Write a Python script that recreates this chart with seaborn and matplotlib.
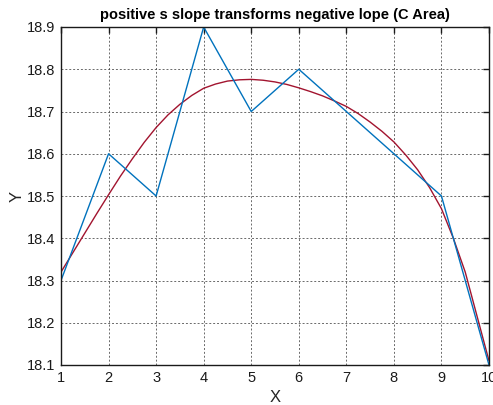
import matplotlib
matplotlib.use("Agg")
import matplotlib.pyplot as plt
import seaborn as sns
import pandas as pd

# data
x_data = [1, 2, 3, 4, 5, 6, 7, 8, 9, 10]
y_data = [18.3, 18.6, 18.5, 18.9, 18.7, 18.8, 18.7, 18.6, 18.5, 18.1]

x_fit = [1, 1.25, 1.5, 1.75, 2, 2.25, 2.5, 2.75, 3, 3.25, 3.5, 3.75, 4, 4.25,
         4.5, 4.75, 5, 5.25, 5.5, 5.75, 6, 6.25, 6.5, 6.75, 7, 7.25, 7.5,
         7.75, 8, 8.25, 8.5, 8.75, 9, 9.25, 9.5, 9.75, 10]
y_fit = [18.32, 18.366, 18.412, 18.458, 18.503, 18.547, 18.588, 18.627,
         18.662, 18.692, 18.717, 18.738, 18.755, 18.765, 18.772, 18.775,
         18.776, 18.774, 18.770, 18.764, 18.756, 18.747, 18.737, 18.725,
         18.712, 18.695, 18.675, 18.653, 18.628, 18.597, 18.562, 18.52,
         18.47, 18.40, 18.32, 18.215, 18.11]

x_ticks = [1, 2, 3, 4, 5, 6, 7, 8, 9, 10]
y_ticks = [18.1, 18.2, 18.3, 18.4, 18.5, 18.6, 18.7, 18.8, 18.9]

title = "positive s slope transforms negative lope (C Area)"

sns.set_theme(style="white")
plt.rcParams['font.family'] = ['Liberation Sans', 'DejaVu Sans']

fig = plt.figure(figsize=(4.93, 4.05), dpi=100)
ax = fig.add_axes([61 / 493, 40 / 405, 428 / 493, 338 / 405])

df_fit = pd.DataFrame({"x": x_fit, "y": y_fit})
df_data = pd.DataFrame({"x": x_data, "y": y_data})

sns.lineplot(data=df_fit, x="x", y="y", ax=ax, color="#A2142F", linewidth=1.0,
             sort=False, estimator=None)
sns.lineplot(data=df_data, x="x", y="y", ax=ax, color="#0072BD", linewidth=1.0,
             sort=False, estimator=None)

ax.set_xlim(1, 10)
ax.set_ylim(18.1, 18.9)
ax.set_xticks(x_ticks)
ax.set_xticklabels([str(t) for t in x_ticks])
ax.set_yticks(y_ticks)
ax.set_yticklabels([f"{t:.1f}" for t in y_ticks])

ax.grid(True, color="#444444", linestyle=(0, (2, 2)), linewidth=0.7, alpha=0.8)
ax.tick_params(direction="in", length=4, width=1, top=True, right=True,
               labelsize=10.5, colors="#1a1a1a", pad=4)
for s in ax.spines.values():
    s.set_color("#1a1a1a")
    s.set_linewidth(1.0)
    s.set_visible(True)

ax.set_xlabel("X", fontsize=12, color="#262626", labelpad=4)
ax.set_ylabel("Y", fontsize=12, color="#262626", labelpad=2)
ax.set_title(title, fontsize=10.5, fontweight="bold", color="black", pad=6)

fig.savefig("out.png", dpi=100)
